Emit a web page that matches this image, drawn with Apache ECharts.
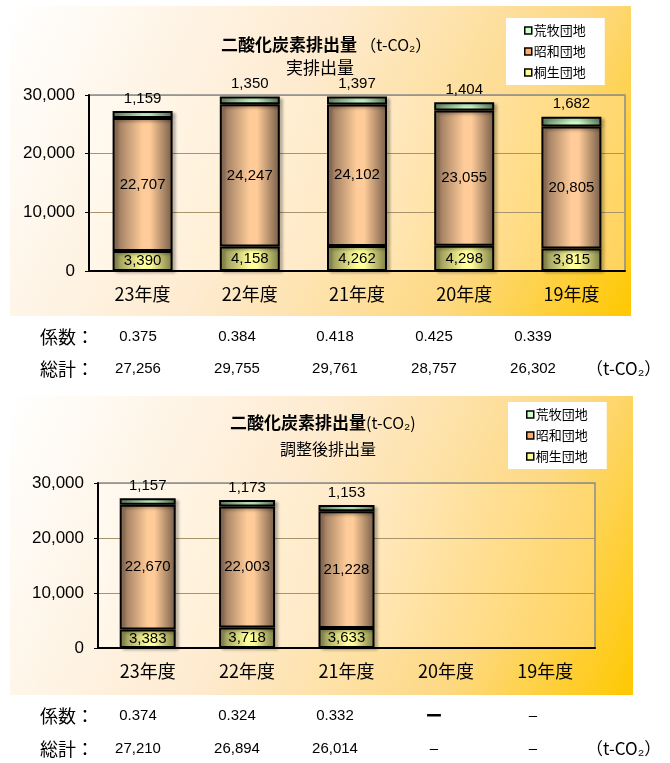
<!DOCTYPE html>
<html>
<head>
<meta charset="utf-8">
<script src="https://cdn.jsdelivr.net/npm/echarts/dist/echarts.min.js"></script>
<style>
html,body{margin:0;padding:0;background:#fff;}
#chart{width:670px;height:763px;}
</style>
</head>
<body>
<div id="chart"></div>
<script>
// 年度（カテゴリ）
const years = ['23年度', '22年度', '21年度', '20年度', '19年度'];

// 実排出量 (t-CO2)
const kiryuActual   = [3390, 4158, 4262, 4298, 3815];
const showaActual   = [22707, 24247, 24102, 23055, 20805];
const aramakiActual = [1159, 1350, 1397, 1404, 1682];
const coefActual    = ['0.375', '0.384', '0.418', '0.425', '0.339'];

// 調整後排出量 (t-CO2)
const kiryuAdjusted   = [3383, 3718, 3633, null, null];
const showaAdjusted   = [22670, 22003, 21228, null, null];
const aramakiAdjusted = [1157, 1173, 1153, null, null];
const coefAdjusted    = ['0.374', '0.324', '0.332', 'ー', '–'];

const yMax = 30000;
const yStep = 10000;

const JP = '"Noto Sans CJK JP", sans-serif';
const NUM = '"Liberation Sans", Arial, sans-serif';

function fmt(v) {
  return String(v).replace(/\B(?=(\d{3})+(?!\d))/g, ',');
}

// 総計 = 各団地の合計
function totals(a, b, c) {
  return a.map((v, i) => (v == null ? '–' : fmt(v + b[i] + c[i])));
}
const totalActual = totals(kiryuActual, showaActual, aramakiActual);
const totalAdjusted = totals(kiryuAdjusted, showaAdjusted, aramakiAdjusted);

// 円柱風の横グラデーション
function cylinder(edgeL, mid, edgeR) {
  return {
    type: 'linear', x: 0, y: 0, x2: 1, y2: 0,
    colorStops: [
      { offset: 0, color: edgeL },
      { offset: 0.5, color: mid },
      { offset: 0.62, color: mid },
      { offset: 1, color: edgeR }
    ]
  };
}
const fills = {
  '桐生団地': cylinder('#86864E', '#FFFF99', '#7A7A44'),
  '昭和団地': cylinder('#8A6C55', '#FFCC99', '#765C47'),
  '荒牧団地': cylinder('#678767', '#CCFFCC', '#5A7A5C')
};
const legendFills = { '荒牧団地': '#CCFFCC', '昭和団地': '#FFAA66', '桐生団地': '#FFFF99' };

function makeSeries(name, data, axisIdx, stack, labelPos) {
  return {
    name: name,
    type: 'bar',
    stack: stack,
    xAxisIndex: axisIdx,
    yAxisIndex: axisIdx,
    data: data,
    barWidth: axisIdx === 0 ? 60 : 56,
    itemStyle: {
      color: fills[name],
      borderColor: '#000',
      borderWidth: 2,
      shadowColor: 'rgba(0,0,0,0.25)',
      shadowBlur: 3,
      shadowOffsetX: 3,
      shadowOffsetY: 2
    },
    label: {
      show: true,
      position: labelPos,
      distance: 5,
      color: '#000',
      fontSize: 15,
      fontFamily: NUM,
      formatter: p => (p.value == null ? '' : fmt(p.value))
    },
    emphasis: { disabled: true }
  };
}

function xAxisOpt(gridIndex) {
  return {
    type: 'category',
    gridIndex: gridIndex,
    data: years,
    axisLine: { lineStyle: { color: '#000', width: 2 } },
    axisTick: { inside: true, length: 5, lineStyle: { color: '#808080' } },
    axisLabel: { color: '#000', fontSize: 18, fontFamily: JP, margin: 14 }
  };
}
function yAxisOpt(gridIndex) {
  return {
    type: 'value',
    gridIndex: gridIndex,
    min: 0,
    max: yMax,
    interval: yStep,
    axisLine: { show: true, lineStyle: { color: '#000', width: 2 } },
    axisTick: { show: true, length: 4, lineStyle: { color: '#000' } },
    splitLine: { lineStyle: { color: '#A8946C', width: 1 } },
    axisLabel: { color: '#000', fontSize: 17, fontFamily: NUM, margin: 14, formatter: v => fmt(v) }
  };
}

const plotFill = {
  type: 'linear', x: 0, y: 0, x2: 1, y2: 1,
  colorStops: [
    { offset: 0, color: '#FFFAF2' },
    { offset: 0.5, color: '#FFE9C4' },
    { offset: 1, color: '#FFD35A' }
  ]
};
const panelFill = {
  type: 'linear', x: 0, y: 0, x2: 1, y2: 1,
  colorStops: [
    { offset: 0, color: '#FFFFFF' },
    { offset: 0.42, color: '#FEEBD0' },
    { offset: 0.75, color: '#FDD984' },
    { offset: 1, color: '#FFC800' }
  ]
};

function legendOpt(left, top) {
  return {
    orient: 'vertical',
    left: left,
    top: top,
    backgroundColor: '#FFFFFF',
    padding: [6, 19, 6, 18],
    itemGap: 8,
    itemWidth: 7,
    itemHeight: 7,
    icon: 'rect',
    selectedMode: false,
    textStyle: { color: '#000', fontSize: 13, fontFamily: JP, padding: [0, 0, 0, -3] },
    data: ['荒牧団地', '昭和団地', '桐生団地'].map(n => ({
      name: n,
      itemStyle: { color: legendFills[n], borderColor: '#000', borderWidth: 1.5 }
    }))
  };
}

// 係数・総計の表
const colX = [138, 237, 335, 434, 533];
function tableRows(coef, total, yCoef, yTotal) {
  const els = [];
  els.push({ type: 'text', x: 40, y: yCoef, style: { text: '係数：', font: '18px ' + JP, fill: '#000', align: 'left', verticalAlign: 'middle' } });
  els.push({ type: 'text', x: 40, y: yTotal, style: { text: '総計：', font: '18px ' + JP, fill: '#000', align: 'left', verticalAlign: 'middle' } });
  coef.forEach((c, i) => {
    const heavy = c === 'ー';
    els.push({ type: 'text', x: colX[i], y: yCoef, style: { text: c, font: (heavy ? 'bold 17px ' + JP : '15px ' + NUM), fill: '#000', align: 'center', verticalAlign: 'middle' } });
  });
  total.forEach((t, i) => {
    els.push({ type: 'text', x: colX[i], y: yTotal, style: { text: t, font: '15px ' + NUM, fill: '#000', align: 'center', verticalAlign: 'middle' } });
  });
  els.push({ type: 'text', x: 586, y: yTotal, style: { text: '（t-CO₂）', font: '17px ' + JP, fill: '#000', align: 'left', verticalAlign: 'middle' } });
  return els;
}

const titleRich = {
  b: { font: 'bold 17px ' + JP, fill: '#000' },
  n: { font: '16px ' + JP, fill: '#000' }
};

const graphics = [
  { type: 'rect', z: -100, shape: { x: 10, y: 6, width: 621, height: 310 }, style: { fill: panelFill } },
  { type: 'rect', z: -100, shape: { x: 10, y: 396, width: 623, height: 299 }, style: { fill: panelFill } },
  { type: 'text', x: 221, y: 45, style: { text: '{b|二酸化炭素排出量} {n|（t-CO₂）}', rich: titleRich, align: 'left', verticalAlign: 'middle' } },
  { type: 'text', x: 320, y: 68, style: { text: '実排出量', font: '17px ' + JP, fill: '#000', align: 'center', verticalAlign: 'middle' } },
  { type: 'text', x: 230, y: 423, style: { text: '{b|二酸化炭素排出量}{n|(t-CO₂)}', rich: titleRich, align: 'left', verticalAlign: 'middle' } },
  { type: 'text', x: 328, y: 449, style: { text: '調整後排出量', font: '16px ' + JP, fill: '#000', align: 'center', verticalAlign: 'middle' } }
].concat(tableRows(coefActual, totalActual, 337, 369))
 .concat(tableRows(coefAdjusted, totalAdjusted, 716, 749));

const chart = echarts.init(document.getElementById('chart'), null, { renderer: 'canvas' });
chart.setOption({
  animation: false,
  backgroundColor: '#FFFFFF',
  graphic: graphics,
  legend: [legendOpt(506, 18), legendOpt(508, 402)],
  grid: [
    { left: 89, top: 95, width: 536, height: 176, show: true, borderColor: '#8C8C8C', borderWidth: 1.5, backgroundColor: plotFill },
    { left: 98, top: 483, width: 497, height: 165, show: true, borderColor: '#8C8C8C', borderWidth: 1.5, backgroundColor: plotFill }
  ],
  xAxis: [xAxisOpt(0), xAxisOpt(1)],
  yAxis: [yAxisOpt(0), yAxisOpt(1)],
  series: [
    makeSeries('桐生団地', kiryuActual, 0, 'actual', 'inside'),
    makeSeries('昭和団地', showaActual, 0, 'actual', 'inside'),
    makeSeries('荒牧団地', aramakiActual, 0, 'actual', 'top'),
    makeSeries('桐生団地', kiryuAdjusted, 1, 'adjusted', 'inside'),
    makeSeries('昭和団地', showaAdjusted, 1, 'adjusted', 'inside'),
    makeSeries('荒牧団地', aramakiAdjusted, 1, 'adjusted', 'top')
  ]
});
</script>
</body>
</html>
